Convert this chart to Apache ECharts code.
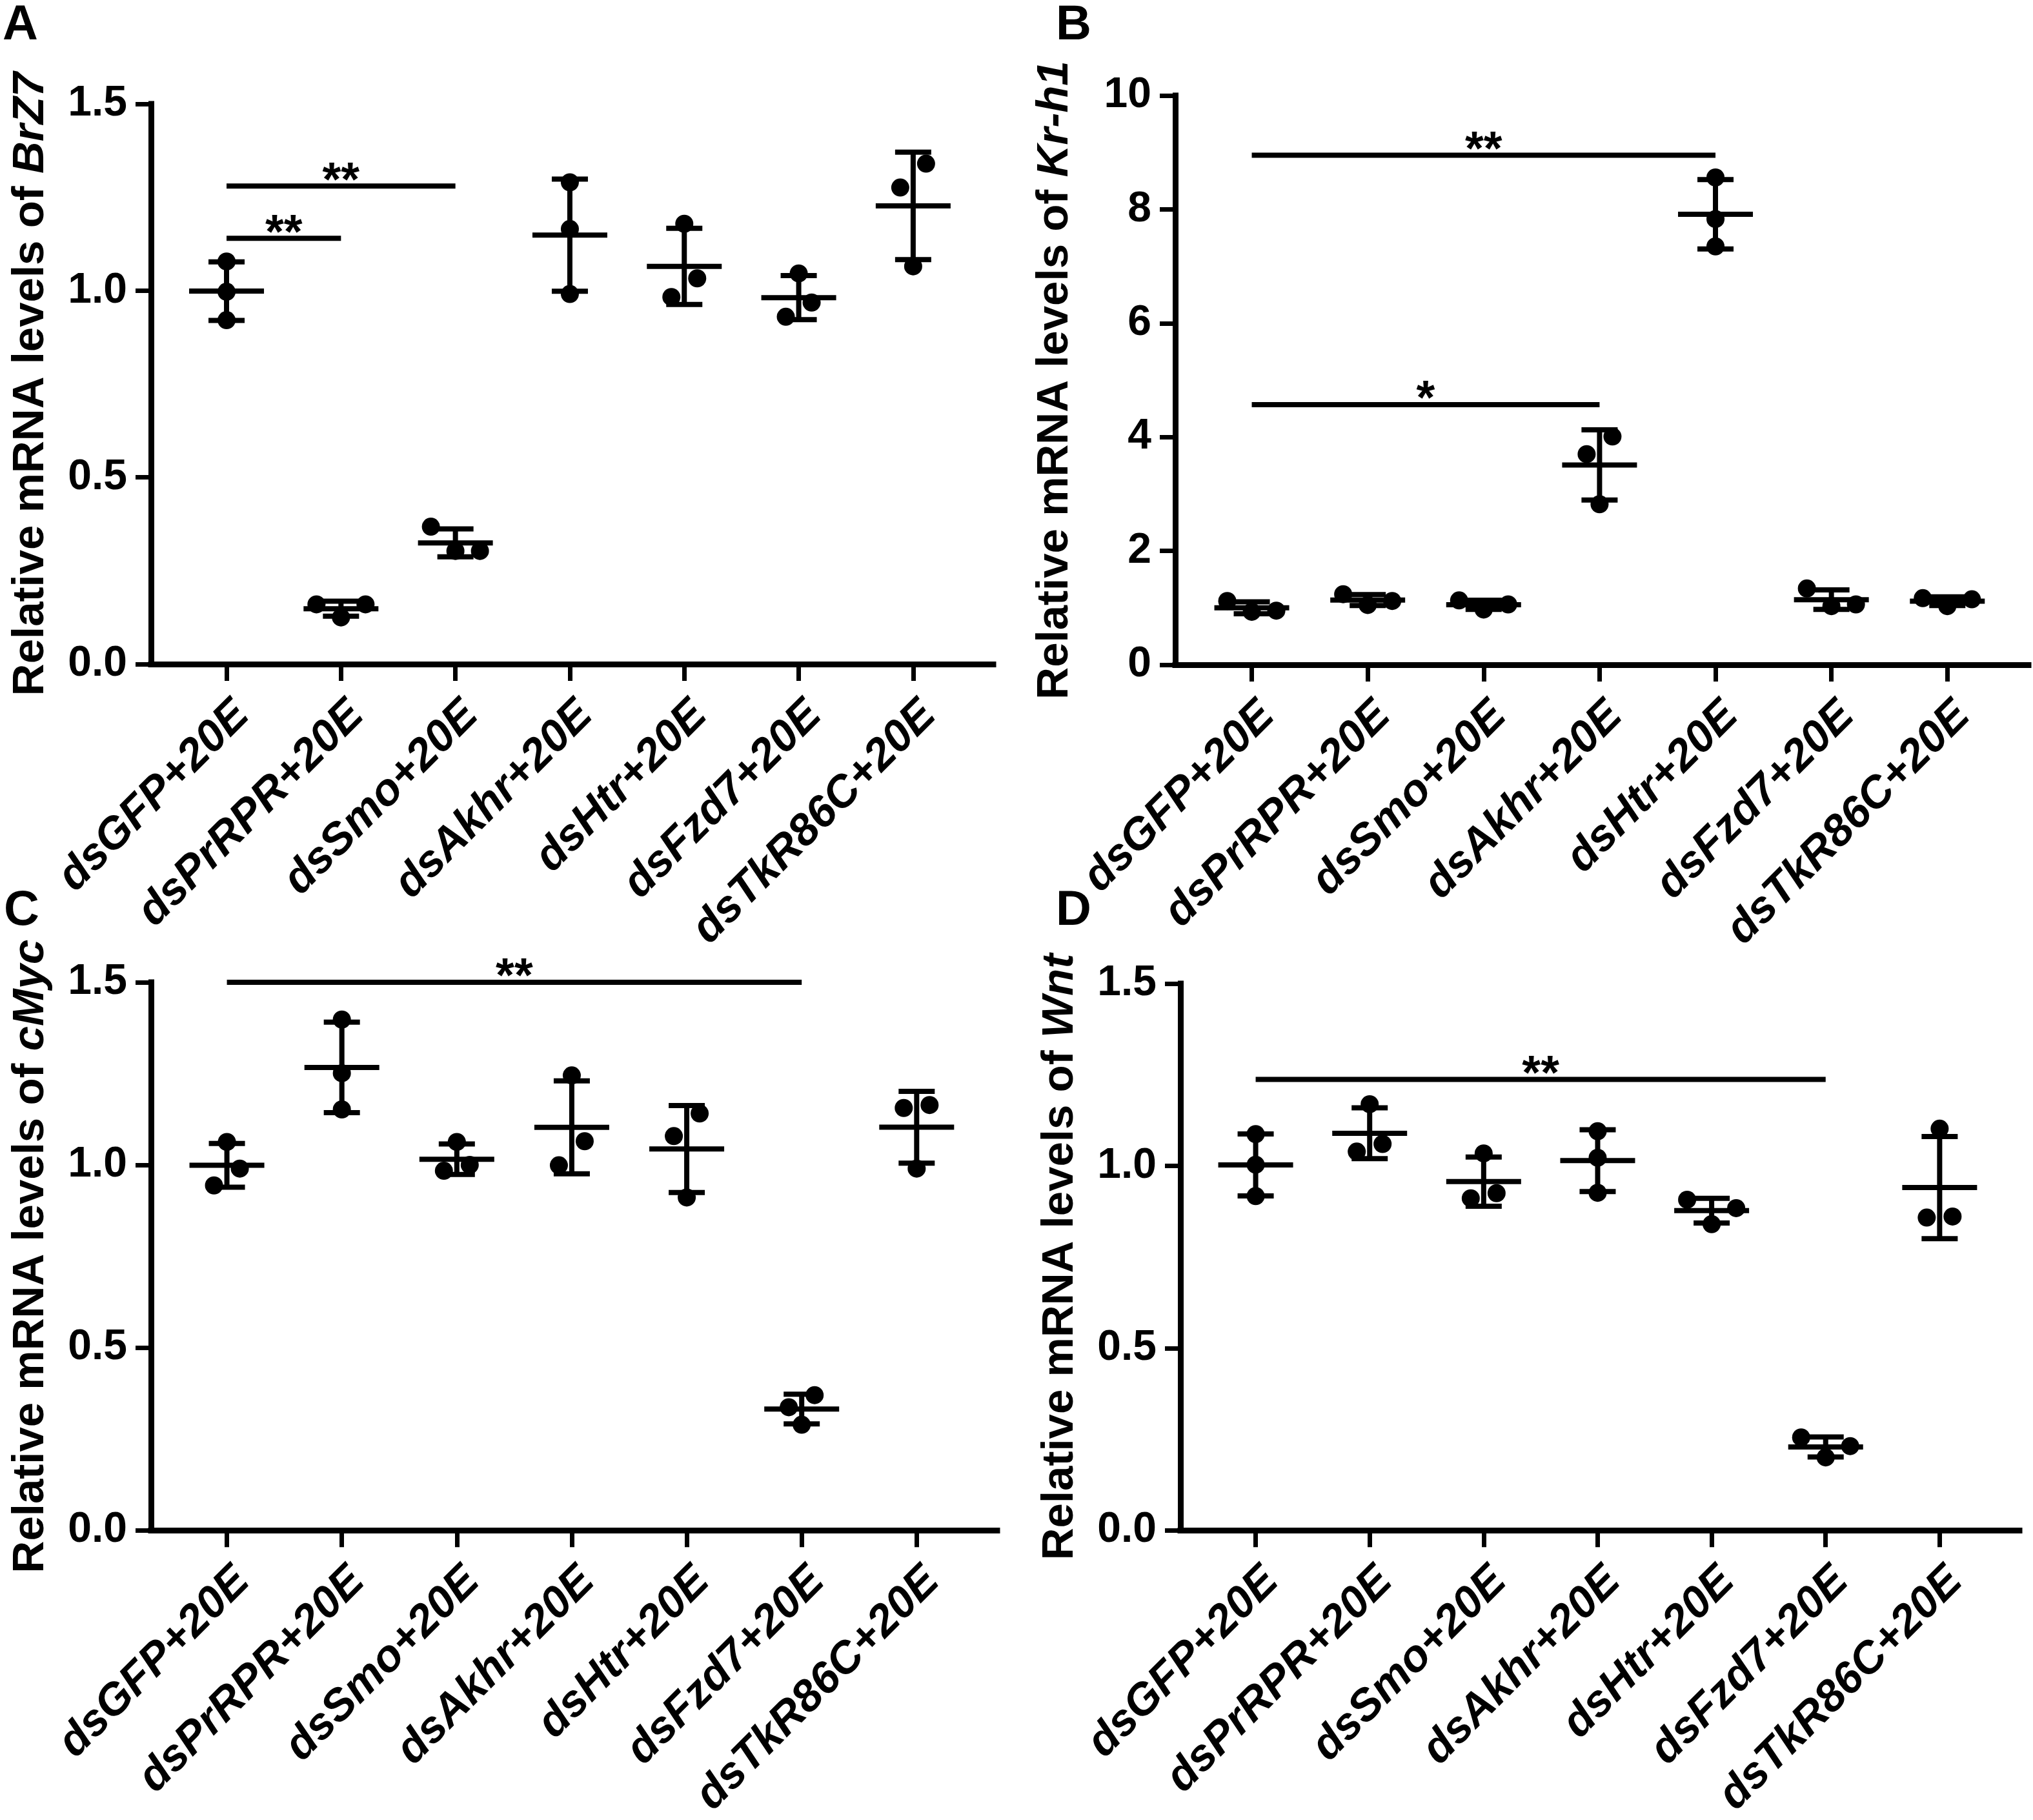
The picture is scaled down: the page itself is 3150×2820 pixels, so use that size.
<!DOCTYPE html>
<html><head><meta charset="utf-8">
<script src="https://cdn.jsdelivr.net/npm/echarts@6/dist/echarts.min.js"></script>
<style>html,body{margin:0;padding:0;background:#fff}#c{width:3150px;height:2820px}</style>
</head><body><div id="c"></div>
<script>
// ---------------- data ----------------
const categories = ['dsGFP+20E','dsPrRPR+20E','dsSmo+20E','dsAkhr+20E','dsHtr+20E','dsFzd7+20E','dsTkR86C+20E'];

// three biological replicates per group
const brz7 = [
  [1.078, 0.997, 0.921],
  [0.160, 0.160, 0.125],
  [0.368, 0.303, 0.303],
  [1.290, 1.165, 0.991],
  [1.179, 1.033, 0.983],
  [1.046, 0.968, 0.930],
  [1.340, 1.276, 1.065]
];
const krh1 = [
  [1.12, 0.93, 0.95],
  [1.24, 1.05, 1.12],
  [1.13, 0.97, 1.06],
  [4.01, 3.70, 2.82],
  [8.56, 7.83, 7.35],
  [1.34, 1.03, 1.06],
  [1.17, 1.03, 1.15]
];
const cmyc = [
  [1.063, 0.990, 0.944],
  [1.398, 1.251, 1.152],
  [1.063, 1.000, 0.984],
  [1.245, 1.065, 0.999],
  [1.141, 1.079, 0.911],
  [0.370, 0.337, 0.289],
  [1.164, 1.156, 0.990]
];
const wnt = [
  [1.087, 1.003, 0.917],
  [1.169, 1.060, 1.039],
  [1.034, 0.925, 0.911],
  [1.095, 1.022, 0.926],
  [0.907, 0.884, 0.840],
  [0.255, 0.231, 0.200],
  [1.102, 0.861, 0.858]
];

// significance brackets: [from group, to group, level]
const sigA = [[0, 2, 1.28], [0, 1, 1.14]];
const sigAText = ['**', '**'];
const sigB = [[0, 4, 8.95], [0, 3, 4.57]];
const sigBText = ['**', '*'];
const sigC = [[0, 5, 1.50]];
const sigCText = ['**'];
const sigD = [[0, 5, 1.237]];
const sigDText = ['**'];

const genes = ['BrZ7', 'Kr-h1', 'cMyc', 'Wnt'];
const letters = ['A', 'B', 'C', 'D'];
const yMax = [1.5, 10, 1.5, 1.5];
const yStep = [0.5, 2, 0.5, 0.5];

// ---------------- layout / style ----------------
const FONT = 'Liberation Sans';
const grids = [
  {left: 234, top: 161, width: 1305, height: 868},
  {left: 1821, top: 148, width: 1322, height: 882},
  {left: 234, top: 1522, width: 1311, height: 875},
  {left: 1829, top: 1524, width: 1300, height: 863}
];
const letterPos = [[4, 2], [1636, 2], [6, 1374], [1636, 1374]];
const LW = 8, AXW = 9, DOT_R = 14, MEAN_HALF = 58, CAP_HALF = 28;
const WIDE = 38, NARROW = 20, TRIPLE_SPAN = 40, PAIR_GAP = 39;

function mean(a) { return a.reduce((s, v) => s + v, 0) / a.length; }
function sd(a) { const m = mean(a); return Math.sqrt(a.reduce((s, v) => s + (v - m) * (v - m), 0) / (a.length - 1)); }

// horizontal spreading of overlapping points (pixel based)
function spread(ys) {
  const order = [0, 1, 2].sort((a, b) => ys[a] - ys[b]);
  const off = [0, 0, 0];
  const sy = order.map(i => ys[i]);
  const g1 = sy[1] - sy[0], g2 = sy[2] - sy[1];
  if (sy[2] - sy[0] < TRIPLE_SPAN) {
    off[order[0]] = -WIDE; off[order[1]] = WIDE; off[order[2]] = 0;
  } else if (Math.min(g1, g2) < PAIR_GAP) {
    const p = g1 <= g2 ? [order[0], order[1]] : [order[1], order[2]];
    off[p[0]] = NARROW; off[p[1]] = -NARROW;
  }
  return off;
}

const lineStyle = {stroke: '#000', lineWidth: LW};
function seg(x1, y1, x2, y2) {
  return {type: 'line', shape: {x1, y1, x2, y2}, style: lineStyle};
}

function renderGroup(params, api) {
  const idx = api.value(0);
  const vals = [api.value(1), api.value(2), api.value(3)];
  const m = mean(vals), s = sd(vals);
  const cx = api.coord([idx, m])[0];
  const ym = api.coord([idx, m])[1];
  const yt = api.coord([idx, m + s])[1];
  const yb = api.coord([idx, m - s])[1];
  const ys = vals.map(v => api.coord([idx, v])[1]);
  const off = spread(ys);
  const children = [];
  ys.forEach((y, i) => children.push({type: 'circle', shape: {cx: cx + off[i], cy: y, r: DOT_R}, style: {fill: '#000'}}));
  children.push(seg(cx, yt, cx, yb));
  children.push(seg(cx - CAP_HALF, yt, cx + CAP_HALF, yt));
  children.push(seg(cx - CAP_HALF, yb, cx + CAP_HALF, yb));
  children.push(seg(cx - MEAN_HALF, ym, cx + MEAN_HALF, ym));
  return {type: 'group', children};
}

function makeSigRenderer(texts) {
  return function (params, api) {
    const p1 = api.coord([api.value(0), api.value(2)]);
    const p2 = api.coord([api.value(1), api.value(2)]);
    return {type: 'group', children: [
      seg(p1[0], p1[1], p2[0], p2[1]),
      {type: 'text', style: {text: texts[params.dataIndex], x: (p1[0] + p2[0]) / 2, y: p1[1] - 6,
        align: 'center', verticalAlign: 'middle', textAlign: 'center', textVerticalAlign: 'middle',
        font: 'bold 74px "' + FONT + '"', fill: '#000'}}
    ]};
  };
}

const panels = [brz7, krh1, cmyc, wnt];
const sigs = [sigA, sigB, sigC, sigD];
const sigTexts = [sigAText, sigBText, sigCText, sigDText];
const idxs = categories.map((c, i) => i);

const option = {
  backgroundColor: '#fff',
  animation: false,
  grid: grids.map(g => Object.assign({containLabel: false}, g)),
  xAxis: grids.map((g, i) => ({
    gridIndex: i, type: 'value', min: -0.66, max: 6.7,
    splitLine: {show: false},
    axisLine: {show: true, onZero: false, lineStyle: {color: '#000', width: AXW, cap: 'square'}},
    axisTick: {show: true, customValues: idxs, length: 26, lineStyle: {color: '#000', width: 7}},
    axisLabel: {show: true, customValues: idxs, formatter: v => categories[Math.round(v)],
      rotate: 45, margin: 44, verticalAlign: 'top', color: '#000',
      fontSize: 69, fontWeight: 'bold', fontStyle: 'italic', fontFamily: FONT}
  })),
  yAxis: grids.map((g, i) => ({
    gridIndex: i, type: 'value', min: 0, max: yMax[i], interval: yStep[i],
    splitLine: {show: false},
    axisLine: {show: true, onZero: false, lineStyle: {color: '#000', width: AXW, cap: 'square'}},
    axisTick: {show: true, length: 24, lineStyle: {color: '#000', width: 7}},
    axisLabel: {margin: 37, color: '#000', fontSize: 66, fontWeight: 'bold', fontFamily: FONT,
      formatter: v => yStep[i] < 1 ? v.toFixed(1) : String(v)},
    name: 'Relative mRNA levels of {i|' + genes[i] + '}',
    nameLocation: 'middle', nameGap: 152,
    nameTextStyle: {fontSize: 69, fontWeight: 'bold', color: '#000', fontFamily: FONT,
      rich: {i: {fontSize: 69, fontWeight: 'bold', fontStyle: 'italic', color: '#000', fontFamily: FONT}}}
  })),
  graphic: letters.map((L, i) => ({type: 'text', left: letterPos[i][0], top: letterPos[i][1],
    style: {text: L, font: 'bold 76px "' + FONT + '"', fill: '#000'}})),
  series: []
};

panels.forEach((d, i) => {
  option.series.push({
    type: 'custom', xAxisIndex: i, yAxisIndex: i,
    data: d.map((v, k) => [k, v[0], v[1], v[2]]),
    encode: {x: 0, y: [1, 2, 3]},
    renderItem: renderGroup, clip: false, silent: true
  });
  option.series.push({
    type: 'custom', xAxisIndex: i, yAxisIndex: i,
    data: sigs[i].map(s => [s[0], s[1], s[2]]),
    encode: {x: [0, 1], y: 2},
    renderItem: makeSigRenderer(sigTexts[i]), clip: false, silent: true
  });
});

const chart = echarts.init(document.getElementById('c'), null, {renderer: 'canvas'});
chart.setOption(option);
</script>
</body></html>
